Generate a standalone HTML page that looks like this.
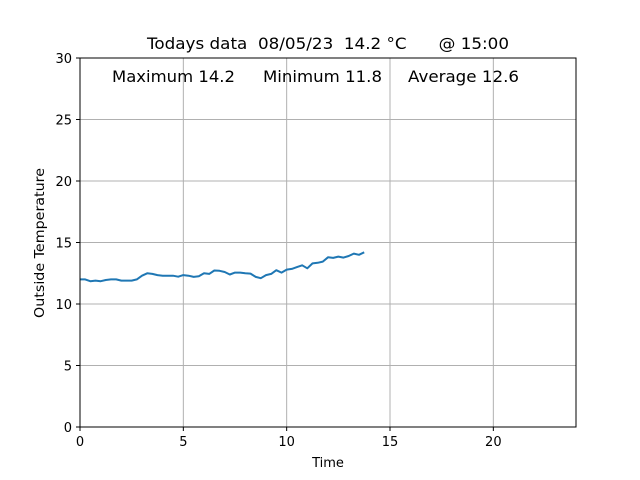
<!DOCTYPE html>
<html><head><meta charset="utf-8"><style>body{margin:0;background:#fff}svg{display:block;font-family:"DejaVu Sans","Liberation Sans",sans-serif}</style></head>
<body>
<svg id="chart" width="640" height="480" viewBox="0 0 640 480" xmlns="http://www.w3.org/2000/svg">
<rect width="640" height="480" fill="#fff"/>
<g id="grid"></g>
<g id="ticks"></g>
<polyline id="line" fill="none" stroke="#1f77b4" stroke-width="2" stroke-linejoin="round"/>
<rect x="80" y="58" width="496" height="369" fill="none" stroke="#000" stroke-width="1"/>
<text x="147" y="49" font-size="16" textLength="362" lengthAdjust="spacingAndGlyphs" xml:space="preserve">Todays data  08/05/23  14.2 °C      @ 15:00</text>
<text x="112" y="82" font-size="16" textLength="123" lengthAdjust="spacingAndGlyphs">Maximum 14.2</text>
<text x="263" y="82" font-size="16" textLength="119" lengthAdjust="spacingAndGlyphs">Minimum 11.8</text>
<text x="408" y="82" font-size="16" textLength="111" lengthAdjust="spacingAndGlyphs">Average 12.6</text>
<text x="328" y="467" font-size="13" text-anchor="middle">Time</text>
<text transform="translate(44,243) rotate(-90)" font-size="13" text-anchor="middle" textLength="150" lengthAdjust="spacingAndGlyphs">Outside Temperature</text>
</svg>
<script>
const xTicks=[0,5,10,15,20];
const yTicks=[0,5,10,15,20,25,30];
const hours=[0,0.25,0.5,0.75,1,1.25,1.5,1.75,2,2.25,2.5,2.75,3,3.25,3.5,3.75,4,4.25,4.5,4.75,5,5.25,5.5,5.75,6,6.25,6.5,6.75,7,7.25,7.5,7.75,8,8.25,8.5,8.75,9,9.25,9.5,9.75,10,10.25,10.5,10.75,11,11.25,11.5,11.75,12,12.25,12.5,12.75,13,13.25,13.5,13.75];
const temps=[12.0,12.0,11.85,11.9,11.85,11.95,12.0,12.0,11.9,11.9,11.9,12.0,12.3,12.5,12.45,12.35,12.3,12.3,12.3,12.22,12.35,12.3,12.2,12.25,12.5,12.45,12.72,12.7,12.6,12.4,12.55,12.55,12.5,12.47,12.2,12.1,12.35,12.45,12.75,12.55,12.8,12.85,13.0,13.15,12.9,13.3,13.35,13.45,13.8,13.75,13.85,13.77,13.9,14.1,14.0,14.2];
const X=v=>80+v*496/24, Y=v=>427-v*369/30;
const NS="http://www.w3.org/2000/svg";
const grid=document.getElementById('grid'), ticks=document.getElementById('ticks');
function mk(t,a,p){const e=document.createElementNS(NS,t);for(const k in a)e.setAttribute(k,a[k]);p.appendChild(e);return e;}
xTicks.forEach(v=>{
 const g=mk('line',{x1:X(v),x2:X(v),y1:58,y2:427,stroke:'#b0b0b0','stroke-width':1},grid);
 
 
 const t=mk('line',{x1:X(v),x2:X(v),y1:427,y2:431,stroke:'#000'},ticks);
 
 
 const l=mk('text',{x:X(v),y:446,'font-size':13,'text-anchor':'middle'},ticks);l.textContent=v;
 
 
});
yTicks.forEach(v=>{
 const g=mk('line',{x1:80,x2:576,y1:Y(v),y2:Y(v),stroke:'#b0b0b0','stroke-width':1},grid);
 
 
 const t=mk('line',{x1:76,x2:80,y1:Y(v),y2:Y(v),stroke:'#000'},ticks);
 
 
 const l=mk('text',{x:72,y:Y(v)+5,'font-size':13,'text-anchor':'end'},ticks);l.textContent=v;
 
 
});
document.getElementById('line').setAttribute('points',hours.map((h,i)=>X(h).toFixed(1)+','+Y(temps[i]).toFixed(1)).join(' '));
</script>
</body></html>
